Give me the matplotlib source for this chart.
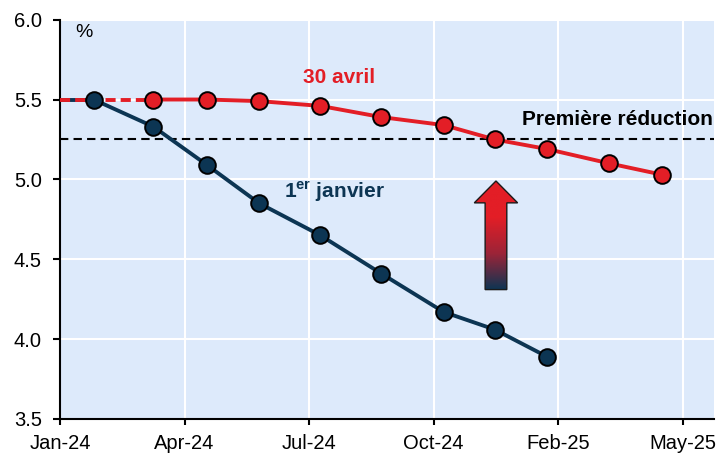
import numpy as np
import pandas as pd
import matplotlib
matplotlib.use("Agg")
import matplotlib.pyplot as plt
import matplotlib.dates as mdates
from matplotlib.patches import Polygon
from matplotlib.colors import LinearSegmentedColormap

plt.rcParams["font.family"] = ["Liberation Sans", "DejaVu Sans"]
plt.rcParams["mathtext.fontset"] = "custom"
plt.rcParams["mathtext.rm"] = "Liberation Sans"
plt.rcParams["mathtext.bf"] = "Liberation Sans:bold"

# market-implied policy rate path (%)
start_date = "2024-01-01"
start_value = 5.50

jan_dates = ["2024-01-28", "2024-03-16", "2024-04-28", "2024-06-09", "2024-07-28",
             "2024-09-15", "2024-11-04", "2024-12-15", "2025-01-26"]
jan_values = [5.50, 5.33, 5.09, 4.85, 4.65, 4.41, 4.17, 4.06, 3.89]

apr_dates = ["2024-03-16", "2024-04-28", "2024-06-09", "2024-07-28", "2024-09-15",
             "2024-11-04", "2024-12-15", "2025-01-26", "2025-03-17", "2025-04-28"]
apr_values = [5.50, 5.50, 5.49, 5.46, 5.39, 5.34, 5.25, 5.19, 5.10, 5.03]

first_cut = 5.25

RED = "#E31E26"
NAVY = "#0C3553"
BG = "#DDEAFB"

jan_d = pd.to_datetime(jan_dates)
apr_d = pd.to_datetime(apr_dates)
d0 = pd.Timestamp(start_date)

fig = plt.figure(figsize=(7.19, 4.57), dpi=100)
ax = fig.add_axes([0.0834, 0.0832, 0.9096, 0.8738])
ax.set_facecolor(BG)

# lines
ax.plot([d0, jan_d[0]], [start_value, jan_values[0]], color=NAVY, lw=2.8, zorder=3)
ax.plot([d0, apr_d[0]], [start_value, apr_values[0]], color=RED, lw=2.8,
        ls=(0, (2.6, 1.3)), zorder=3)
ax.plot(apr_d, apr_values, color=RED, lw=2.8, marker="o", ms=12,
        mfc=RED, mec="black", mew=1.4, zorder=4)
ax.plot(jan_d, jan_values, color=NAVY, lw=2.8, marker="o", ms=12,
        mfc=NAVY, mec="black", mew=1.4, zorder=5)

ax.axhline(first_cut, color="black", lw=1.5, ls=(0, (4, 2.5)), zorder=2)

# gradient arrow (pointing up)
xc = mdates.date2num(pd.Timestamp("2024-12-16"))
hw_shaft, hw_head = 8.7, 17.4
y_bot, y_base, y_tip = 4.31, 4.853, 4.99
arrow_pts = [(xc - hw_shaft, y_bot), (xc - hw_shaft, y_base), (xc - hw_head, y_base),
             (xc, y_tip), (xc + hw_head, y_base), (xc + hw_shaft, y_base),
             (xc + hw_shaft, y_bot)]
arrow = Polygon(arrow_pts, closed=True, fc="none", ec="#1a1a1a", lw=1.0, zorder=7)
ax.add_patch(arrow)
cmap = LinearSegmentedColormap.from_list("rb", [NAVY, "#9B2438", RED, RED])
grad = np.linspace(0, 1, 256).reshape(-1, 1)
im = ax.imshow(grad, cmap=cmap, origin="lower", aspect="auto",
               extent=[xc - hw_head, xc + hw_head, y_bot, y_tip], zorder=6)
im.set_clip_path(arrow)

# labels
ax.text(pd.Timestamp("2024-08-12"), 5.603, "30 avril", color=RED, fontsize=15,
        fontweight="bold", ha="center", va="baseline", zorder=8)
ax.text(pd.Timestamp("2024-08-08"), 4.884, r"$\mathbf{1^{er}}$ janvier", color=NAVY,
        fontsize=15, fontweight="bold", ha="center", va="baseline", zorder=8)
ax.text(0.998, 5.342, "Première réduction", color="black", fontsize=15,
        fontweight="bold", ha="right", va="baseline",
        transform=ax.get_yaxis_transform(), zorder=8)
ax.text(0.024, 0.957, "%", fontsize=14, ha="left", va="baseline",
        transform=ax.transAxes)

# axes
ax.set_ylim(3.5, 6.0)
ax.set_yticks(np.arange(3.5, 6.01, 0.5))
ax.yaxis.set_major_formatter(matplotlib.ticker.FormatStrFormatter("%.1f"))
ticks = [d0 + pd.Timedelta(days=100 * k) for k in range(6)]
ax.set_xticks(ticks)
ax.xaxis.set_major_formatter(mdates.DateFormatter("%b-%y"))
ax.set_xlim(d0, d0 + pd.Timedelta(days=525))

ax.grid(True, color="white", lw=1.5)
ax.set_axisbelow(True)
for s in ["top", "right"]:
    ax.spines[s].set_visible(False)
ax.spines["left"].set_linewidth(1.5)
ax.spines["bottom"].set_linewidth(1.5)
ax.tick_params(axis="both", labelsize=14.5, width=1.5, direction="out")
ax.tick_params(axis="y", length=5, pad=8)
ax.tick_params(axis="x", length=4.5, pad=6.5)

fig.savefig("out.png", dpi=100, facecolor="white")
